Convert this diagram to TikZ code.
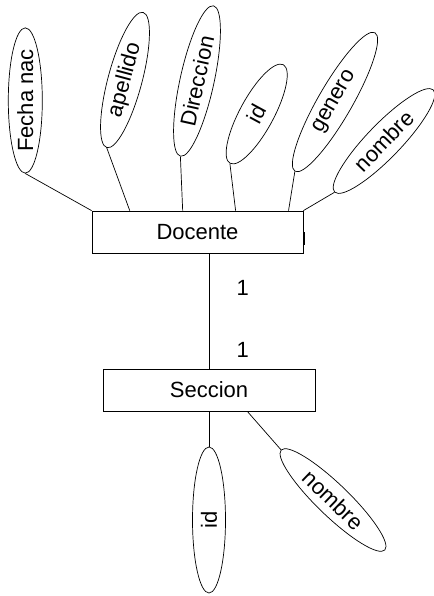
\documentclass[tikz,border=0pt]{standalone}
\usepackage{fontspec}
\setmainfont{Liberation Sans}
\usetikzlibrary{shapes.geometric,calc}
\begin{document}
\begin{tikzpicture}[x=1pt,y=-1pt,
  every node/.style={font=\fontsize{22}{26}\selectfont},
  entity/.style={draw, line width=0.7pt, rectangle, inner sep=0pt, minimum width=211pt, minimum height=42pt},
  attr/.style={draw, line width=0.7pt, ellipse, inner sep=0pt, minimum height=34pt},
  link/.style={line width=0.7pt},
  card/.style={inner sep=0pt}]
\useasboundingbox (0,0) rectangle (433,596);
% entities
\node[entity] (docente) at (197.5,232) {Docente};
\node[entity, minimum width=212pt] (seccion) at (209,390) {Seccion};
% Docente attributes
\node[attr, minimum width=144pt, rotate=90] (fecha) at (25.3,100.5) {Fecha nac};
\node[attr, minimum width=140pt, rotate=75] (apellido) at (125,80) {apellido};
\node[attr, minimum width=154pt, rotate=77.6] (direccion) at (197,81) {Direccion};
\node[attr, minimum width=112pt, rotate=61.6] (did) at (256.7,114) {id};
\node[attr, minimum width=160pt, rotate=60] (genero) at (335,102) {genero};
\node[attr, minimum width=142pt, rotate=46] (dnombre) at (384,141) {nombre};
% Seccion attributes
\node[attr, minimum width=146pt, minimum height=33pt, rotate=90] (sid) at (209,520) {id};
\node[attr, minimum width=144pt, minimum height=32pt, rotate=-44] (snombre) at (333,500) {nombre};
% connectors
\draw[link] (fecha.west) -- (docente.north west);
\draw[link] (apellido.west) -- ($(docente.north west)!0.18!(docente.north east)$);
\draw[link] (direccion.west) -- ($(docente.north west)!0.43!(docente.north east)$);
\draw[link] (did.west) -- ($(docente.north west)!0.68!(docente.north east)$);
\draw[link] (genero.west) -- ($(docente.north west)!0.93!(docente.north east)$);
\draw[link] (dnombre.west) -- (docente.north east);
\draw[link] (seccion.north |- docente.south) -- (seccion.north);
\draw[link] (seccion.south) -- (sid.east);
\draw[link] ($(seccion.south west)!0.68!(seccion.south east)$) -- (snombre.west);
% small mark at Docente's right side
\coordinate (marktop) at ($(docente.east)+(1pt,0pt)$);
\draw[line width=1.4pt] (marktop) -- ++(0,13);
% cardinalities
\node[card] (c1) at (242.7,288.3) {1};
\node[card] (c2) at (242.7,350) {1};
\end{tikzpicture}
\end{document}
